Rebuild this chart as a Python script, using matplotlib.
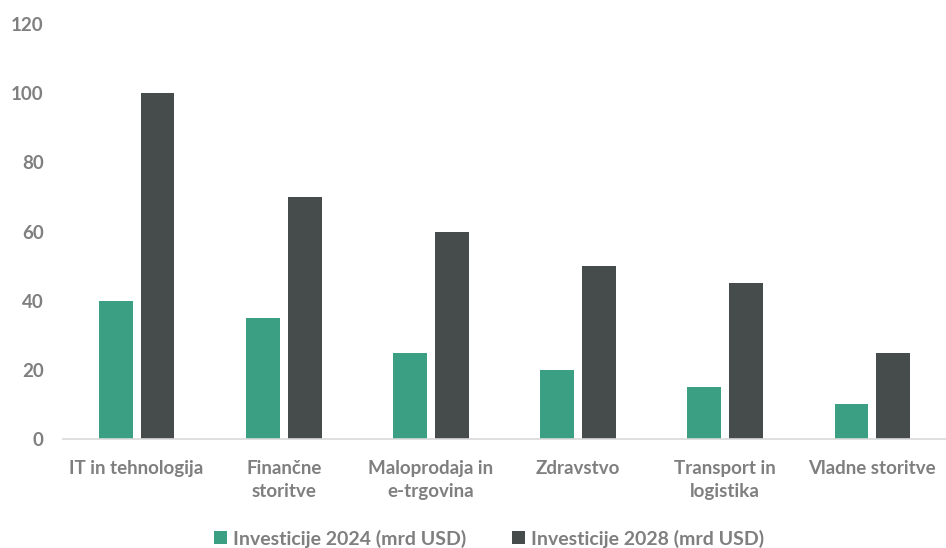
import numpy as np
import matplotlib.pyplot as plt

categories = ["IT in tehnologija", "Finančne\nstoritve", "Maloprodaja in\ne-trgovina",
              "Zdravstvo", "Transport in\nlogistika", "Vladne storitve"]
inv_2024 = [40, 35, 25, 20, 15, 10]
inv_2028 = [100, 70, 60, 50, 45, 25]
series_names = ["Investicije 2024 (mrd USD)", "Investicije 2028 (mrd USD)"]
yticks = [0, 20, 40, 60, 80, 100, 120]

GREEN = "#3b9f83"
DARK = "#464c4c"
TEXT = "#7f7f7f"

plt.rcParams["font.family"] = "Lato"
plt.rcParams["font.weight"] = "bold"

fig = plt.figure(figsize=(9.46, 5.48), dpi=100)
ax = fig.add_axes([0.0666, 0.1989, 0.9334, 0.7571])

x = np.arange(len(categories))
w = 0.23
off = 0.142
ax.bar(x - off, inv_2024, w, color=GREEN, label=series_names[0])
ax.bar(x + off, inv_2028, w, color=DARK, label=series_names[1])

ax.set_xlim(-0.5, len(categories) - 0.5)
ax.set_ylim(0, 120)
ax.set_yticks(yticks)
ax.set_xticks(x)
ax.set_xticklabels(categories, linespacing=1.45, family="Lato", weight="bold")
ax.set_yticklabels([str(v) for v in yticks], family="Lato", weight="bold")

for s in ["top", "right", "left"]:
    ax.spines[s].set_visible(False)
ax.spines["bottom"].set_color("#d9d9d9")
ax.spines["bottom"].set_linewidth(1.2)

ax.tick_params(axis="y", length=0, pad=14, labelsize=13.5, labelcolor=TEXT)
ax.tick_params(axis="x", length=0, pad=15, labelsize=13.5, labelcolor=TEXT)

leg = fig.legend(loc="center", bbox_to_anchor=(0.517, 0.017), ncol=2, frameon=False,
                 prop={"family": "Lato", "weight": "bold", "size": 14},
                 handlelength=0.65, handleheight=0.65, handletextpad=0.3,
                 columnspacing=2.4)
for t in leg.get_texts():
    t.set_color(TEXT)

fig.savefig("out.png", dpi=100)
